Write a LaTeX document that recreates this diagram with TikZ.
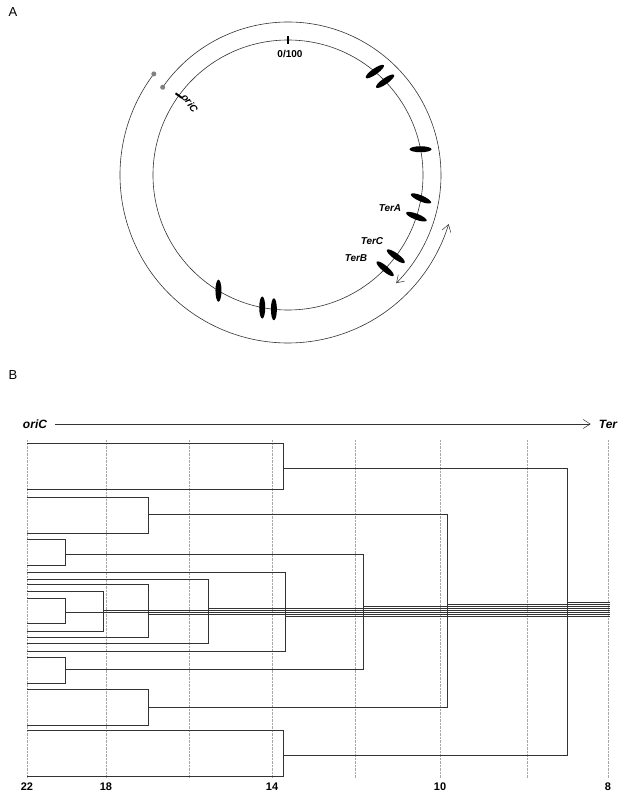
\documentclass[tikz,border=0pt]{standalone}
\usepackage{fontspec}
\setmainfont{Liberation Sans}
\usetikzlibrary{arrows.meta,calc,shapes.geometric}
\begin{document}
\begin{tikzpicture}[x=1pt,y=-1pt,
  ln/.style={line width=0.6pt,black!80},
  grid/.style={densely dotted,gray!70,line width=0.4pt},
  lab/.style={font=\bfseries\itshape\fontsize{10}{10}\selectfont,inner sep=0pt},
  tick/.style={font=\bfseries\fontsize{11}{11}\selectfont,inner sep=0pt},
  spindle/.style={fill=black,draw=none},
  oa/.style={-{Straight Barb[length=7pt,width=9pt,line width=0.5pt]}}]
\useasboundingbox (0,0) rectangle (624,800);
\node[font=\fontsize{13}{13}\selectfont] (A) at (13,12) {A};
\node[font=\fontsize{13}{13}\selectfont] (B) at (13,375) {B};
% panel A
\begin{scope}[shift={(288,175)},yscale=-1]
\coordinate (c) at (0,0);
\draw[ln] (c) circle[radius=135];
\draw[ln] (145:153) arc[start angle=145,end angle=-40,radius=153];
\draw[ln,oa] (-40:153) arc[start angle=-40,end angle=-45,radius=153];
\draw[ln] (143:168) arc[start angle=143,end angle=333,radius=168];
\draw[ln,oa] (333:168) arc[start angle=333,end angle=343,radius=168];
\fill[gray] (145:153) circle[radius=2.5];
\fill[gray] (143:168) circle[radius=2.5];
\draw[line width=2pt] (90:131) -- (90:139);
\draw[line width=2pt] (144:131) -- (144:139);
\foreach \a/\o in {50/35,44/35,11/0,-10/-23,-18/-21,-37/-36,-44/-40,-121/90,-101/90,-96/90}{
  \path (\a:135) node[spindle,rotate=\o,ellipse,minimum width=22pt,minimum height=6pt,inner sep=0pt] {};
}
\end{scope}
\node[font=\bfseries\fontsize{10}{10}\selectfont] (z) at (290,54) {0/100};
\node[lab,rotate=-54] (o) at (190,103) {oriC};
\node[lab] (tA) at (390,208) {TerA};
\node[lab] (tC) at (372,241) {TerC};
\node[lab] (tB) at (356,258) {TerB};
% panel B
\node[lab,font=\bfseries\itshape\fontsize{12}{12}\selectfont] (oc) at (35,424) {oriC};
\node[lab,font=\bfseries\itshape\fontsize{12}{12}\selectfont] (te) at (608,424) {Ter};
\draw[ln,oa] ($(oc.east)+(8,0)$) -- ($(te.west)+(-8,0)$);
\foreach \x in {27,106,189,272,355,440,527,608}{\draw[grid] (\x,440) -- (\x,778);}
\foreach \x/\t in {27/22,106/18,272/14,440/10,608/8}{\node[tick] at (\x,787) {\t};}
\def\pr#1#2#3{\draw[ln] (27,#1) -- (#3,#1) -- (#3,#2) -- (27,#2);}
\pr{443}{489}{283}
\pr{497}{533}{148}
\pr{539}{565}{65}
\pr{572}{651}{285}
\pr{579}{643}{208}
\pr{584}{637}{148}
\pr{591}{631}{103}
\pr{598}{623}{65}
\pr{657}{683}{65}
\pr{689}{725}{148}
\pr{730}{776}{283}
\draw[ln] (283,468) -- (567,468) -- (567,755) -- (283,755);
\draw[ln] (148,514) -- (447,514) -- (447,707) -- (148,707);
\draw[ln] (65,554) -- (363,554) -- (363,669) -- (65,669);
\foreach \x/\y in {65/612,103/610,148/614,208/608,285/616,363/606,447/604,567/602}{
  \draw[ln] (\x,\y) -- (610,\y);}
\end{tikzpicture}
\end{document}
